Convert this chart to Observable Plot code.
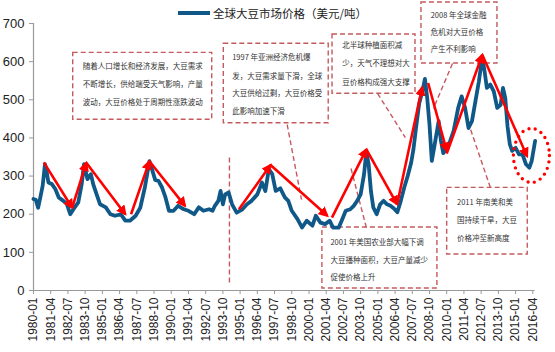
<!DOCTYPE html>
<html>
<head>
<meta charset="utf-8">
<script src="https://cdn.jsdelivr.net/npm/d3@7"></script>
<script src="https://cdn.jsdelivr.net/npm/@observablehq/plot@0.6"></script>
<style>
  html, body { margin: 0; padding: 0; background: #fff; }
  #wrap { position: relative; width: 555px; height: 352px; overflow: hidden; }
  #legend { position: absolute; left: 178px; top: 5px; display: flex; align-items: center;
            font-family: "Noto Sans CJK SC", sans-serif; font-size: 11.5px; color: #222; }
  #legend .sw { display: inline-block; width: 32px; height: 4px; background: #0f5888; margin-right: 3px; }
</style>
</head>
<body>
<div id="wrap"><div id="legend"><span class="sw"></span><span id="legendText"></span></div></div>
<script>
// ---- data ----
const seriesName = "全球大豆市场价格（美元/吨）";
const priceDates = ["1980-01","1980-03","1980-05","1980-07","1980-09","1980-11","1980-12","1981-02","1981-05","1981-08","1981-11","1982-03","1982-06","1982-09","1982-12","1983-04","1983-07","1983-09","1983-12","1984-03","1984-05","1984-08","1984-11","1985-04","1985-08","1985-12","1986-05","1986-09","1987-01","1987-06","1987-10","1988-02","1988-06","1988-08","1988-11","1989-02","1989-05","1989-08","1989-11","1990-03","1990-07","1990-12","1991-04","1991-09","1992-01","1992-05","1992-10","1993-01","1993-03","1993-06","1993-08","1993-10","1993-12","1994-03","1994-06","1994-10","1995-03","1995-07","1995-11","1996-04","1996-08","1996-11","1997-02","1997-05","1997-08","1997-12","1998-04","1998-07","1998-10","1999-03","1999-07","1999-11","2000-04","2000-07","2000-11","2001-03","2001-07","2001-10","2002-03","2002-06","2002-09","2003-01","2003-04","2003-07","2003-10","2004-01","2004-03","2004-05","2004-07","2004-09","2004-12","2005-03","2005-06","2005-09","2005-12","2006-03","2006-06","2006-09","2006-12","2007-03","2007-06","2007-08","2007-10","2008-01","2008-04","2008-06","2008-08","2008-10","2008-12","2009-02","2009-04","2009-06","2009-08","2009-10","2010-01","2010-04","2010-07","2010-11","2011-02","2011-05","2011-08","2011-11","2012-02","2012-05","2012-08","2012-10","2012-12","2013-03","2013-06","2013-09","2013-12","2014-02","2014-04","2014-06","2014-08","2014-10","2015-01","2015-04","2015-07","2015-10","2016-01","2016-03","2016-06"];
const priceValues = [240,238,217,245,275,331,320,283,279,266,244,235,227,200,214,231,279,331,292,305,279,252,226,218,200,196,200,183,183,196,217,270,339,320,290,287,270,244,209,209,222,213,209,200,218,209,213,209,222,235,261,226,252,257,226,204,213,226,235,252,283,261,318,305,261,268,244,235,209,187,165,183,170,196,178,174,183,165,165,187,209,213,222,235,252,305,365,330,260,218,200,226,235,226,222,215,205,235,270,300,335,370,420,490,525,555,505,435,340,374,409,444,392,360,374,392,418,479,509,479,426,444,496,548,612,574,531,540,522,479,487,531,505,430,383,366,374,357,357,331,322,339,392];
const xTickLabels = ["1980-01","1981-04","1982-07","1983-10","1985-01","1986-04","1987-07","1988-10","1990-01","1991-04","1992-07","1993-10","1995-01","1996-04","1997-07","1998-10","2000-01","2001-04","2002-07","2003-10","2005-01","2006-04","2007-07","2008-10","2010-01","2011-04","2012-07","2013-10","2015-01","2016-04"];
const yTicks = [0,100,200,300,400,500,600,700];

// trend arrows (month index from 1980-01, value)
const arrowX1 = [9, 33.7, 46, 85, 101, 179, 206.5, 260, 290, 316.8, 343.8, 360, 391];
const arrowY1 = [336, 217, 335, 200, 339, 213, 329, 191, 370, 226, 544, 359, 618];
const arrowX2 = [33.7, 46, 80, 101, 132, 206.5, 256, 290, 316.8, 338.6, 360, 391, 430];
const arrowY2 = [217, 335, 200, 339, 222, 329, 196, 370, 226, 533, 366, 618, 352];

// annotation boxes (month index, value)
const boxX1 = [34.6, 165.8, 260.5, 338, 360.4, 251.7];
const boxX2 = [155.7, 257.2, 332.8, 404.2, 430.6, 351.9];
const boxY1 = [447.6, 438.6, 515.7, 595, 94.4, 5.2];
const boxY2 = [623, 646.8, 671, 755, 269, 165];

// dashed connectors
const connX1 = [221, 299.7, 365, 398, 290, 170.7];
const connY1 = [435, 516.5, 595, 270, 165, 348.7];
const connX2 = [233.5, 324, 348.4, 374.6, 276, 170.7];
const connY2 = [238, 401, 477, 477, 327, 21];

// annotation texts
const noteText = [
  "随着人口增长和经济发展，大豆需求", "不断增长，供给端受天气影响，产量", "波动，大豆价格处于周期性涨跌波动",
  "1997 年亚洲经济危机爆", "发，大豆需求量下滑，全球", "大豆供给过剩，大豆价格受", "此影响加速下滑",
  "北半球种植面积减", "少，天气不理想对大", "豆价格构成强大支撑",
  "2008 年全球金融", "危机对大豆价格", "产生不利影响",
  "2011 年南美和美", "国持续干旱，大豆", "价格冲至新高度",
  "2001 年美国农业部大幅下调", "大豆播种面积，大豆产量减少", "促使价格上升"
];
const noteX = [95.1,95.1,95.1, 173.1,173.1,173.1,173.1, 268.9,268.9,268.9, 346,346,346, 369,369,369, 258.7,258.7,258.7];
const noteY = [587,540,493, 610,561,516,469, 642,595,545, 721,676.5,632, 231.5,183.5,135.5, 126.6,78.7,34.9];
const noteAnchor = ["middle","middle","middle","start","start","start","start","start","start","start","start","start","start","start","start","start","start","start","start"];

// highlighted latest point region
const circleX = [433.8];
const circleY = [354];

// ---- build ----
const toIdx = s => { const [yy, mm] = s.split("-").map(Number); return (yy - 1980) * 12 + (mm - 1); };
const price = priceDates.map((d, i) => ({m: toIdx(d), v: priceValues[i]}));
const tickIdx = xTickLabels.map(toIdx);
const arrows = arrowX1.map((x, i) => ({x1: x, y1: arrowY1[i], x2: arrowX2[i], y2: arrowY2[i]}));
const boxes = boxX1.map((x, i) => ({x1: x, x2: boxX2[i], y1: boxY1[i], y2: boxY2[i]}));
const conns = connX1.map((x, i) => ({x1: x, y1: connY1[i], x2: connX2[i], y2: connY2[i]}));
const notes = noteText.map((t, i) => ({t, x: noteX[i], y: noteY[i], a: noteAnchor[i]}));
const circ = circleX.map((x, i) => ({x, y: circleY[i]}));

const boxColor = "#c55a5e";
const arrowColor = "#ff0000";
const cjk = "'Noto Sans CJK SC', sans-serif";

document.getElementById("legendText").textContent = seriesName;

const chart = Plot.plot({
  width: 555, height: 352,
  marginLeft: 33, marginRight: 20.4, marginTop: 23, marginBottom: 62,
  style: {fontFamily: "'Liberation Sans', Arial, sans-serif", background: "transparent", color: "#222", overflow: "visible"},
  x: {type: "linear", domain: [0, 437]},
  y: {domain: [0, 700]},
  marks: [
    Plot.axisY({ticks: yTicks, tickSize: 4, tickPadding: 5, fontSize: 13, stroke: "#999", label: null}),
    Plot.axisX({ticks: tickIdx, tickFormat: (d) => xTickLabels[tickIdx.indexOf(d)], tickRotate: -90, tickSize: 4, tickPadding: 3, fontSize: 12, stroke: "#999", label: null}),
    Plot.ruleX([0], {stroke: "#999", strokeWidth: 1.2}),
    Plot.ruleY([0], {stroke: "#999", strokeWidth: 1.2}),
    Plot.rect(boxes, {x1: "x1", x2: "x2", y1: "y1", y2: "y2", fill: "none", stroke: boxColor, strokeWidth: 1.4, strokeDasharray: "5,3"}),
    Plot.link(conns, {x1: "x1", y1: "y1", x2: "x2", y2: "y2", stroke: boxColor, strokeWidth: 1.4, strokeDasharray: "5,3"}),
    Plot.line(price, {x: "m", y: "v", stroke: "#0f5888", strokeWidth: 3.8, strokeLinejoin: "round"}),
    Plot.link(arrows, {x1: "x1", y1: "y1", x2: "x2", y2: "y2", stroke: arrowColor, strokeWidth: 2.6}),
    Plot.dot(circ, {x: "x", y: "y", r: 18, fill: "none", stroke: arrowColor, strokeWidth: 3.4, strokeDasharray: "0,6.5", strokeLinecap: "round"}),
    Plot.text(notes.filter(d => d.a === "middle"), {x: "x", y: "y", text: "t", textAnchor: "middle", fontSize: 7.5, fontFamily: cjk, fill: "#333"}),
    Plot.text(notes.filter(d => d.a === "start"), {x: "x", y: "y", text: "t", textAnchor: "start", fontSize: 7.5, fontFamily: cjk, fill: "#333"})
  ]
});

// filled arrowheads on the red trend links
const svg = d3.select(chart);
const defs = svg.insert("defs", ":first-child");
defs.append("marker").attr("id", "redTri").attr("viewBox", "0 0 10 10")
  .attr("refX", 8).attr("refY", 5).attr("markerWidth", 4).attr("markerHeight", 4)
  .attr("orient", "auto").attr("markerUnits", "strokeWidth")
  .append("path").attr("d", "M0,0L10,5L0,10z").attr("fill", arrowColor);
svg.selectAll("path").filter(function() {
  const g = this.parentNode;
  return (g.getAttribute("stroke") === arrowColor || this.getAttribute("stroke") === arrowColor) &&
         !(g.getAttribute("stroke-dasharray") || this.getAttribute("stroke-dasharray"));
}).attr("marker-end", "url(#redTri)");
// stretch the dotted circle into a vertical ellipse
svg.selectAll("circle").filter(function() {
  const g = this.parentNode;
  return g.getAttribute("stroke") === arrowColor || this.getAttribute("stroke") === arrowColor;
}).each(function() {
  const c = d3.select(this);
  let cx = +c.attr("cx"), cy = +c.attr("cy");
  if (isNaN(cx) || isNaN(cy)) { cx = 0; cy = 0; }
  c.attr("transform", `translate(${cx},${cy}) scale(1,1.5) translate(${-cx},${-cy})`)
   .attr("vector-effect", "non-scaling-stroke");
});
document.getElementById("wrap").insertBefore(chart, document.getElementById("legend"));
</script>
</body>
</html>
